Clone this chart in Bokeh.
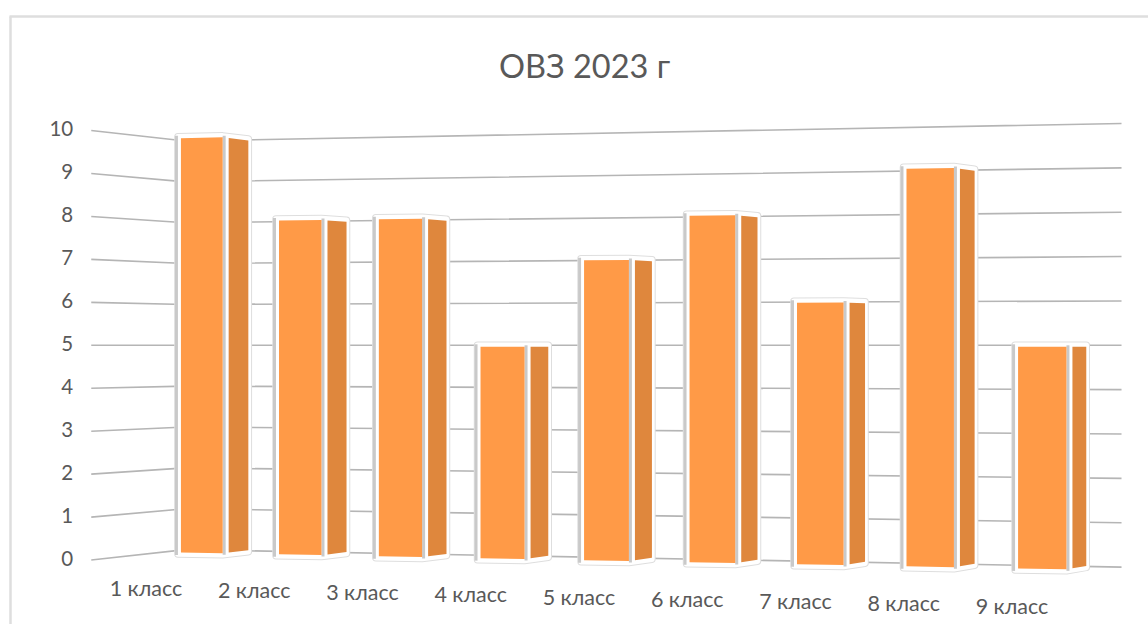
import numpy as np
from bokeh.core.properties import value
from bokeh.embed import file_html
from bokeh.models import ColumnDataSource, Range1d
from bokeh.plotting import figure
from bokeh.resources import INLINE

# ---- data ----
title = "ОВЗ 2023 г"
categories = ["1 класс", "2 класс", "3 класс", "4 класс", "5 класс",
              "6 класс", "7 класс", "8 класс", "9 класс"]
values = [10, 8, 8, 5, 7, 8, 6, 9, 5]
tick_values = [0, 1, 2, 3, 4, 5, 6, 7, 8, 9, 10]

# ---- view of the 3-D box (plan coordinates: lateral, inverse scale) ----
HORIZON_V = 5.0
HORIZON_Y = 344.8
CX = 574.0
PLAN_CORNER = np.array([-9.52, 0.02447])
PLAN_RIGHT = np.array([12.33, 0.02254])
PLAN_FRONT = np.array([-11.25, 0.02328])
N = len(categories)
BAR_T0, BAR_T1 = 0.30, 0.725
FRONT_PITCH, REAR_PITCH = 0.994, 1.0
REAR_T = 0.72
BAR_U0, BAR_U1 = 0.075, 0.37


def project(t, u, v):
    """t along the categories, u from back wall to front, v the value."""
    x, d = (PLAN_CORNER + (PLAN_RIGHT - PLAN_CORNER) * t / N
            + (PLAN_FRONT - PLAN_CORNER) * u)
    return CX + x / d, HORIZON_Y + (HORIZON_V - v) / d


W, H = 1148, 624
p = figure(width=W, height=H, output_backend="svg", toolbar_location=None,
           x_range=Range1d(0, W), y_range=Range1d(H, 0),
           x_axis_type=None, y_axis_type=None, min_border=0,
           outline_line_color=None, background_fill_color="white",
           border_fill_color="white")
p.grid.visible = False

# chart frame
p.segment([9, 10], [16, 16], [W, 10], [16, H], line_color="#DEDEDE", line_width=2.5)

# gridlines on the left and back walls
gx, gy = [], []
for v in tick_values:
    pts = [project(0, 1, v), project(0, 0, v), project(N, 0, v)]
    gx.append([q[0] for q in pts])
    gy.append([q[1] for q in pts])
p.multi_line(gx, gy, line_color="#B5B5B5", line_width=1.6)

# columns
ORANGE, DARK, STRIP = "#FF9A47", "#DF873D", "#C9C9C9"
sil_x, sil_y, strip_x, strip_y, front_x, front_y, side_x, side_y = ([] for _ in range(8))
for i, val in enumerate(values):
    t0, t1 = i * FRONT_PITCH + BAR_T0, i * FRONT_PITCH + BAR_T1
    t2 = i * REAR_PITCH + REAR_T
    flt, frt, rrt = project(t0, BAR_U1, val), project(t1, BAR_U1, val), project(t2, BAR_U0, val)
    flb, frb, rrb = project(t0, BAR_U1, 0), project(t1, BAR_U1, 0), project(t2, BAR_U0, 0)

    # silhouette
    sil_x.append([flt[0] - 3, frt[0], rrt[0], rrb[0], frb[0], flb[0] - 3])
    sil_y.append([flt[1], frt[1], rrt[1], rrb[1], frb[1], flb[1]])

    # grey bevel strips
    strip_x.append([flt[0] - 6, flt[0] - 3, flb[0] - 3, flb[0] - 6])
    strip_y.append([flt[1] - 1, flt[1] - 1, flb[1] + 1, flb[1] + 1])
    strip_x.append([frt[0], frt[0] + 3, frb[0] + 3, frb[0]])
    strip_y.append([frt[1], frt[1], frb[1], frb[1]])

    # front face
    front_x.append([flt[0], frt[0], frb[0], flb[0]])
    front_y.append([flt[1] + 1.5, frt[1] + 1.5, frb[1] - 1.5, flb[1] - 1.5])

    # side face: starts just right of the white rib
    x_a = frt[0] + 6
    f = (x_a - frt[0]) / (rrt[0] - frt[0])
    ya_t = frt[1] + (rrt[1] - frt[1]) * f
    ya_b = frb[1] + (rrb[1] - frb[1]) * f
    side_x.append([x_a, rrt[0], rrb[0], x_a])
    side_y.append([ya_t + 1.5, rrt[1] + 1.5, rrb[1] - 1.5, ya_b - 1.5])

p.patches(sil_x, sil_y, fill_color="white", line_color="#DEDEDE", line_width=7.5, line_join="round")
p.patches(sil_x, sil_y, fill_color="white", line_color="white", line_width=5.5, line_join="round")
p.patches(strip_x, strip_y, fill_color=STRIP, line_color=None)
p.patches(front_x, front_y, fill_color=ORANGE, line_color=None)
p.patches(side_x, side_y, fill_color=DARK, line_color=None)

# texts
FONT = value("Lato")
TEXT = "#595959"
tick_src = ColumnDataSource(dict(
    x=[project(0, 1, v)[0] - 18 for v in tick_values],
    y=[project(0, 1, v)[1] - 2 for v in tick_values],
    t=[str(v) for v in tick_values]))
p.text("x", "y", text="t", source=tick_src, text_font=FONT, text_font_size="20.5px",
       text_color=TEXT, text_align="right", text_baseline="middle")

cat_src = ColumnDataSource(dict(
    x=[145.5 + i * 108.25 for i in range(N)],
    y=[587 + i * 2.25 for i in range(N)],
    t=categories))
p.text("x", "y", text="t", source=cat_src, text_font=FONT, text_font_size="21.5px",
       text_color=TEXT, text_align="center", text_baseline="middle")

p.text([584], [65], text=[title], text_font=FONT, text_font_size="32.5px",
       text_color=TEXT, text_align="center", text_baseline="middle")

open("out.html", "w").write(file_html(p, INLINE))
